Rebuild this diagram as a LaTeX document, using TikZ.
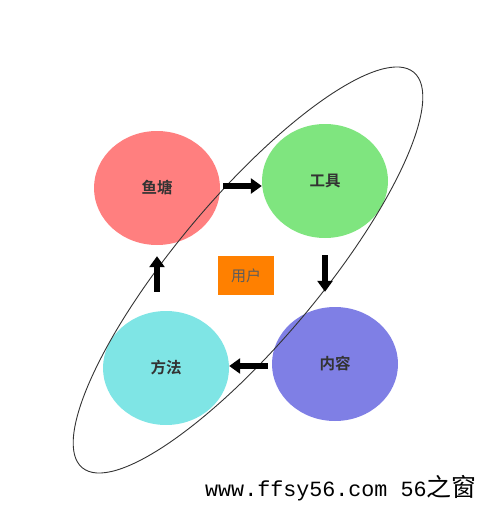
\documentclass[tikz,border=0pt]{standalone}
\usepackage{fontspec}
\usepackage{tikz}
\usetikzlibrary{shapes.geometric, arrows.meta}
\newfontfamily\cjk{Noto Sans CJK SC}
\newfontfamily\cjkbold{Noto Sans CJK SC Bold}
\newfontfamily\markfont{Liberation Mono}

\definecolor{pondred}{HTML}{FF7F7F}
\definecolor{toolgreen}{HTML}{7FE57F}
\definecolor{methodcyan}{HTML}{7FE5E5}
\definecolor{contentblue}{HTML}{7F7FE5}
\definecolor{userorange}{HTML}{FF8000}
\definecolor{labelgray}{HTML}{333333}

\tikzset{
    stage/.style={ellipse, minimum width=126pt, minimum height=114pt, inner sep=0pt,
        font=\cjkbold\fontsize{15.5}{17}\selectfont, text=labelgray},
    blockarrow/.style={line width=6pt, -{Triangle[width=15pt, length=11pt]}}
}

\begin{document}
\begin{tikzpicture}[x=1pt, y=-1pt]
    \useasboundingbox (0,0) rectangle (487,532);

    % Stages
    \node[stage, fill=pondred] (pond) at (157,188) {鱼塘};
    \node[stage, fill=toolgreen] (tool) at (325,181) {工具};
    \node[stage, fill=methodcyan] (method) at (166,368) {方法};
    \node[stage, fill=contentblue] (content) at (335,364) {内容};

    % Big tilted ring
    \begin{scope}[shift={(248,270)}, rotate=50]
        \draw[labelgray, line width=0.9pt] (0,0) ellipse [x radius=258, y radius=72];
    \end{scope}

    % Cycle arrows
    \draw[blockarrow, shorten <=3pt] ([yshift=2pt]pond.east) -- ([yshift=2pt]pond.east -| tool.west);
    \draw[blockarrow, shorten <=17pt, shorten >=15pt] (tool.south) -- (tool.south |- content.north);
    \draw[blockarrow, shorten <=4pt] ([yshift=-2pt]content.west) -- ([yshift=-2pt]content.west -| method.east);
    \draw[blockarrow, shorten <=19pt, shorten >=11pt] (method.north -| pond.south) -- (pond.south);

    % Centre
    \node[fill=userorange, minimum width=56pt, minimum height=39pt, inner sep=0pt,
        font=\cjk\fontsize{15}{17}\selectfont, text=labelgray!80] (user) at (246,275.5) {用户};

    % Watermark
    \node[anchor=base west, inner sep=0pt] (mark) at (205,496)
        {\markfont\fontsize{21.7}{24}\selectfont www.ffsy56.com 56{\cjk\fontsize{25}{27}\selectfont 之窗}};
\end{tikzpicture}
\end{document}
